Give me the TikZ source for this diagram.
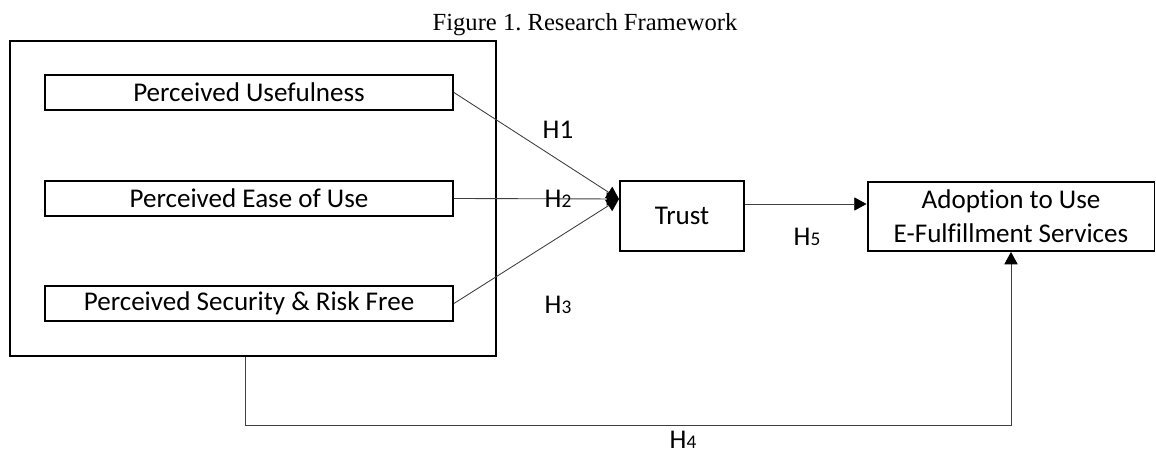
\documentclass[tikz,border=0pt]{standalone}
\usepackage{fontspec}
\setmainfont{Liberation Serif}
\newfontfamily\boxfont[Ligatures=NoCommon]{Carlito}
\usetikzlibrary{arrows.meta}

\newcommand{\hsub}[1]{H{\fontsize{11}{13}\selectfont #1}}

\begin{document}
\begin{tikzpicture}[x=0.02cm, y=-0.02cm,
    varbox/.style={draw, line width=1.1pt, inner sep=0pt, font=\boxfont\fontsize{15.4}{19.5}\selectfont},
    conn/.style={black!75, line width=0.5pt, -{Triangle[length=7pt, width=7.5pt, color=black]}},
    hyp/.style={font=\boxfont\fontsize{15.4}{19}\selectfont}]
    \useasboundingbox (0,0) rectangle (1156,455);

    % Title
    \node[font=\fontsize{14}{16}\selectfont, anchor=base] (title) at (585,31) {Figure 1.\ Research Framework};

    % Outer frame round the three perceptions
    \node[varbox, minimum width=9.72cm, minimum height=6.3cm] (outer) at (253,198.5) {};

    % Independent variables
    \node[varbox, minimum width=8.16cm, minimum height=0.7cm] (pu) at (249,92.5) {Perceived Usefulness};
    \node[varbox, minimum width=8.16cm, minimum height=0.7cm] (peu) at (249,198.5) {Perceived Ease of Use};
    \node[varbox, minimum width=8.16cm, minimum height=0.7cm] (psr) at (249,303.5) {Perceived Security \& Risk Free};

    % Mediator and outcome
    \node[varbox, minimum width=2.48cm, minimum height=1.4cm] (trust) at (682,216) {Trust};
    \node[varbox, minimum width=5.74cm, minimum height=1.38cm, align=center] (adopt) at (1011,216.5)
        {Adoption to Use\\E-Fulfillment Services};

    % Connectors into Trust
    \coordinate (tip) at (619,199);
    \draw[conn] (pu.east) -- (tip);
    \draw[conn] (peu.east) -- (tip);
    \draw[conn] (psr.east) -- (tip);

    % Trust to adoption
    \coordinate (tlevel) at (0,204);
    \draw[conn] (trust.east |- tlevel) -- (adopt.west |- tlevel);

    % Direct path H4
    \coordinate (h4a) at (245,425);
    \draw[conn] (outer.south -| h4a) -- (h4a) -| (adopt.south);

    % Hypothesis labels
    \node[hyp] (h1) at (558,130) {H1};
    \node[hyp] (h2) at (558,199) {\hsub{2}};
    \node[hyp] (h3) at (558,305) {\hsub{3}};
    \node[hyp] (h4) at (683,440) {\hsub{4}};
    \node[hyp] (h5) at (807,237) {\hsub{5}};
\end{tikzpicture}
\end{document}
